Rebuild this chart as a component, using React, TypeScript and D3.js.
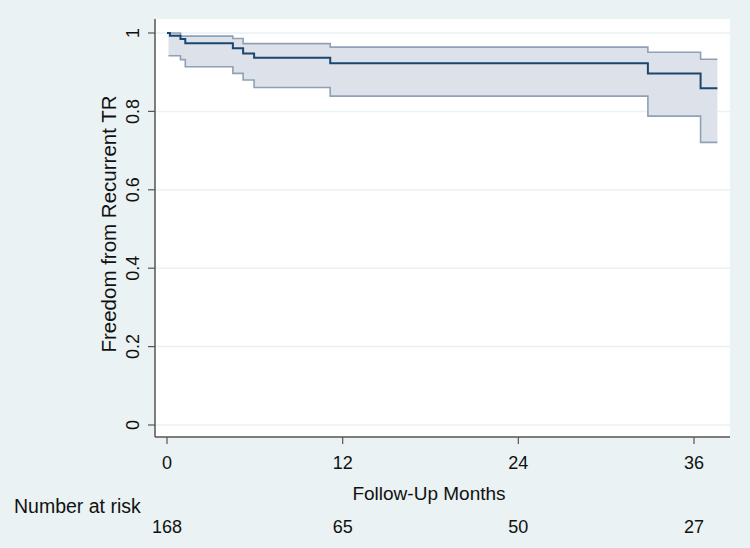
import React from "react";
import * as d3 from "d3";

// Kaplan-Meier estimate
const kmTimes = [0, 0.2, 0.92, 1.25, 4.5, 5.2, 5.95, 11.15, 32.85, 36.45];
const kmSurvival = [1, 0.993, 0.985, 0.974, 0.961, 0.948, 0.937, 0.923, 0.897, 0.859];
// 95% CI band
const ciTimes = [0.1, 0.92, 1.25, 4.5, 5.2, 5.95, 11.15, 32.85, 36.45];
const ciUpper = [1, 0.992, 0.992, 0.986, 0.973, 0.973, 0.964, 0.951, 0.933];
const ciLower = [0.942, 0.932, 0.914, 0.897, 0.88, 0.861, 0.839, 0.788, 0.721];
const lastFollowUp = 37.6;

const xTicks = [0, 12, 24, 36];
const yTicks = [0, 0.2, 0.4, 0.6, 0.8, 1];
const atRiskTimes = [0, 12, 24, 36];
const atRisk = [168, 65, 50, 27];

const width = 750;
const height = 548;
const plot = { left: 155, right: 730, top: 19, bottom: 437 };
const font = "'Liberation Sans', Arial, sans-serif";

const App = () => {
    const x = d3.scaleLinear().domain([0, 36]).range([167, 694]);
    const y = d3.scaleLinear().domain([0, 1]).range([425, 33]);

    const km = kmTimes.map((t, i) => [t, kmSurvival[i]] as [number, number]);
    km.push([lastFollowUp, kmSurvival[kmSurvival.length - 1]]);

    const ci = ciTimes.map((t, i) => ({ t, lo: ciLower[i], hi: ciUpper[i] }));
    ci.push({ t: lastFollowUp, lo: ciLower[ciLower.length - 1], hi: ciUpper[ciUpper.length - 1] });

    const line = d3.line<[number, number]>()
        .x((d) => x(d[0]))
        .y((d) => y(d[1]))
        .curve(d3.curveStepAfter);

    const area = d3.area<{ t: number; lo: number; hi: number }>()
        .x((d) => x(d.t))
        .y0((d) => y(d.lo))
        .y1((d) => y(d.hi))
        .curve(d3.curveStepAfter);

    const upperLine = d3.line<{ t: number; lo: number; hi: number }>()
        .x((d) => x(d.t)).y((d) => y(d.hi)).curve(d3.curveStepAfter);
    const lowerLine = d3.line<{ t: number; lo: number; hi: number }>()
        .x((d) => x(d.t)).y((d) => y(d.lo)).curve(d3.curveStepAfter);

    return (
        <svg width={width} height={height} style={{ position: "absolute", left: 0, top: 0 }} fontFamily={font}>
            <rect x={0} y={0} width={width} height={height} fill="#eaf2f3" />
            <rect x={plot.left} y={plot.top} width={plot.right - plot.left} height={plot.bottom - plot.top} fill="#ffffff" />

            {/* gridlines */}
            {yTicks.map((v) => (
                <line key={"g" + v} x1={plot.left} x2={plot.right} y1={y(v)} y2={y(v)} stroke="#eaf2f3" strokeWidth={1.5} />
            ))}

            {/* CI band */}
            <path d={area(ci) ?? ""} fill="#dde2ea" />
            <path d={upperLine(ci) ?? ""} fill="none" stroke="#8fa1b6" strokeWidth={1.6} />
            <path d={lowerLine(ci) ?? ""} fill="none" stroke="#8fa1b6" strokeWidth={1.6} />

            {/* survival curve */}
            <path d={line(km) ?? ""} fill="none" stroke="#1a476f" strokeWidth={2} />

            {/* axes */}
            <line x1={plot.left} x2={plot.left} y1={plot.top} y2={plot.bottom} stroke="#555" strokeWidth={1.5} />
            <line x1={plot.left} x2={plot.right} y1={plot.bottom} y2={plot.bottom} stroke="#555" strokeWidth={1.5} />

            {yTicks.map((v) => (
                <g key={"y" + v}>
                    <line x1={plot.left - 7} x2={plot.left} y1={y(v)} y2={y(v)} stroke="#555" strokeWidth={1.2} />
                    <text
                        transform={`translate(${plot.left - 16},${y(v)}) rotate(-90)`}
                        textAnchor="middle"
                        fontSize={18}
                        fill="#111"
                    >
                        {d3.format("~g")(v)}
                    </text>
                </g>
            ))}

            {xTicks.map((v) => (
                <g key={"x" + v}>
                    <line x1={x(v)} x2={x(v)} y1={plot.bottom} y2={plot.bottom + 7} stroke="#555" strokeWidth={1.2} />
                    <text x={x(v)} y={plot.bottom + 32} textAnchor="middle" fontSize={18} fill="#111">
                        {v}
                    </text>
                </g>
            ))}

            <text transform={`translate(116,224) rotate(-90)`} textAnchor="middle" fontSize={20.5} fill="#111">
                Freedom from Recurrent TR
            </text>
            <text x={429} y={500} textAnchor="middle" fontSize={19} fill="#111">
                Follow-Up Months
            </text>
            <text x={14} y={513} fontSize={19.5} fill="#111">
                Number at risk
            </text>
            {atRisk.map((n, i) => (
                <text key={"r" + i} x={x(atRiskTimes[i])} y={533} textAnchor="middle" fontSize={18} fill="#111">
                    {n}
                </text>
            ))}
        </svg>
    );
};

export default App;
